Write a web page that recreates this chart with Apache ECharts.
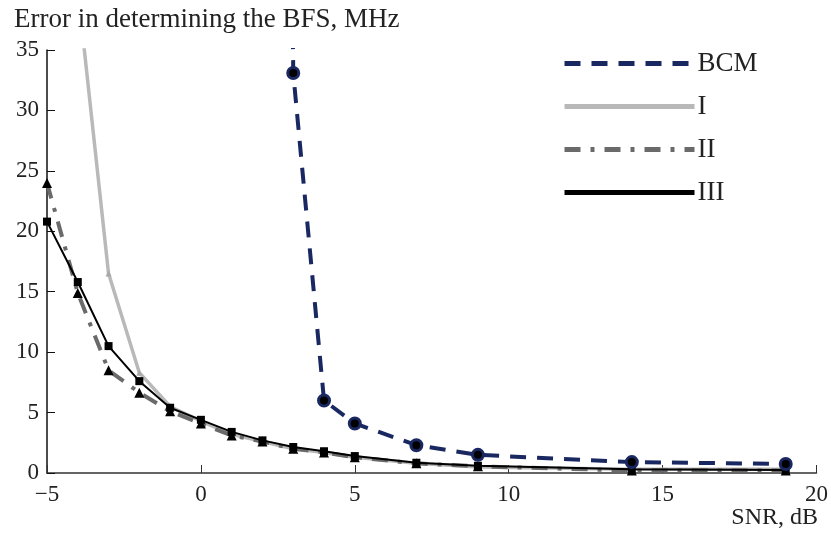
<!DOCTYPE html>
<html>
<head>
<meta charset="utf-8">
<script src="https://cdn.jsdelivr.net/npm/echarts@6/dist/echarts.min.js"></script>
<style>
  html, body { margin: 0; padding: 0; background: #fff; }
  #chart { width: 831px; height: 536px; }
</style>
</head>
<body>
<div id="chart"></div>
<script>
// SNR, dB
const snr = [-5, -4, -3, -2, -1, 0, 1, 2, 3, 4, 5, 7, 9, 14, 19];
const snrBcm = [2, 3, 4, 5, 7, 9, 14, 19];

// error in determining the BFS, MHz
const errBcm = [300, 33.1, 6.0, 4.1, 2.3, 1.5, 0.9, 0.75];
const errI = [null, 40, 16.5, 8.3, 5.5, 4.3, 3.2, 2.6, 2.0, 1.7, 1.3, 0.8, 0.5, 0.3, 0.3];
const errII = [24.0, 14.9, 8.5, 6.65, 5.1, 4.1, 3.1, 2.6, 2.0, 1.7, 1.3, 0.8, 0.55, 0.2, 0.2];
const errIII = [20.8, 15.8, 10.5, 7.6, 5.4, 4.4, 3.4, 2.7, 2.15, 1.8, 1.4, 0.85, 0.6, 0.3, 0.25];

const seriesNames = ["BCM", "I", "II", "III"];
const yTicks = [0, 5, 10, 15, 20, 25, 30, 35];
const xTicks = [-5, 0, 5, 10, 15, 20];

const serif = "Liberation Serif";

function pairs(xs, ys) {
  return xs.map((x, i) => [x, ys[i]]).filter(p => p[1] != null);
}

const chart = echarts.init(document.getElementById("chart"));

chart.setOption({
  animation: false,
  backgroundColor: "#fff",
  title: [
    {
      text: "Error in determining the BFS, MHz",
      left: 9,
      top: 1,
      textStyle: { fontFamily: serif, fontSize: 27, fontWeight: "normal", color: "#222" }
    },
    {
      text: "SNR, dB",
      right: 8,
      top: 501,
      textStyle: { fontFamily: serif, fontSize: 24, fontWeight: "normal", color: "#222" }
    }
  ],
  legend: {
    orient: "vertical",
    left: 557,
    top: 45,
    itemWidth: 130,
    itemHeight: 14,
    itemGap: 16,
    data: seriesNames,
    itemStyle: { opacity: 0 },
    lineStyle: { width: 5 },
    textStyle: { fontFamily: serif, fontSize: 27, color: "#222", padding: [0, 0, 0, -2] }
  },
  grid: { left: 47, right: 13, top: 50, bottom: 63, containLabel: false },
  xAxis: {
    type: "value",
    min: xTicks[0],
    max: xTicks[xTicks.length - 1],
    interval: 5,
    axisLine: { onZero: false, lineStyle: { color: "#333", width: 1.5 } },
    axisTick: { inside: true, length: 8, lineStyle: { color: "#333" } },
    splitLine: { show: false },
    axisLabel: {
      fontFamily: serif,
      fontSize: 23,
      color: "#222",
      margin: 10,
      formatter: v => String(v).replace("-", "\u2212")
    }
  },
  yAxis: {
    type: "value",
    min: yTicks[0],
    max: yTicks[yTicks.length - 1],
    interval: 5,
    axisLine: { show: true, onZero: false, lineStyle: { color: "#111", width: 1.5 } },
    axisTick: { show: true, inside: true, length: 8, lineStyle: { color: "#111" } },
    splitLine: { show: false },
    axisLabel: { fontFamily: serif, fontSize: 23, color: "#222", margin: 8 }
  },
  series: [
    {
      name: "BCM",
      type: "line",
      data: pairs(snrBcm, errBcm),
      z: 5,
      symbol: "circle",
      symbolSize: 11,
      lineStyle: { color: "#1a2862", width: 4, type: [16, 11] },
      itemStyle: { color: "#000", borderColor: "#1a2862", borderWidth: 3 }
    },
    {
      name: "I",
      type: "line",
      data: pairs(snr, errI),
      z: 2,
      symbol: "triangle",
      symbolSize: 6,
      lineStyle: { color: "#b9b9b9", width: 3.5 },
      itemStyle: { color: "#a8a8a8" }
    },
    {
      name: "II",
      type: "line",
      data: pairs(snr, errII),
      z: 3,
      symbol: "triangle",
      symbolSize: 10,
      lineStyle: { color: "#6a6a6a", width: 4, type: [16, 10, 4, 10] },
      itemStyle: { color: "#000" }
    },
    {
      name: "III",
      type: "line",
      data: pairs(snr, errIII),
      z: 4,
      symbol: "rect",
      symbolSize: 8,
      lineStyle: { color: "#000", width: 2 },
      itemStyle: { color: "#000" }
    }
  ]
});
</script>
</body>
</html>
